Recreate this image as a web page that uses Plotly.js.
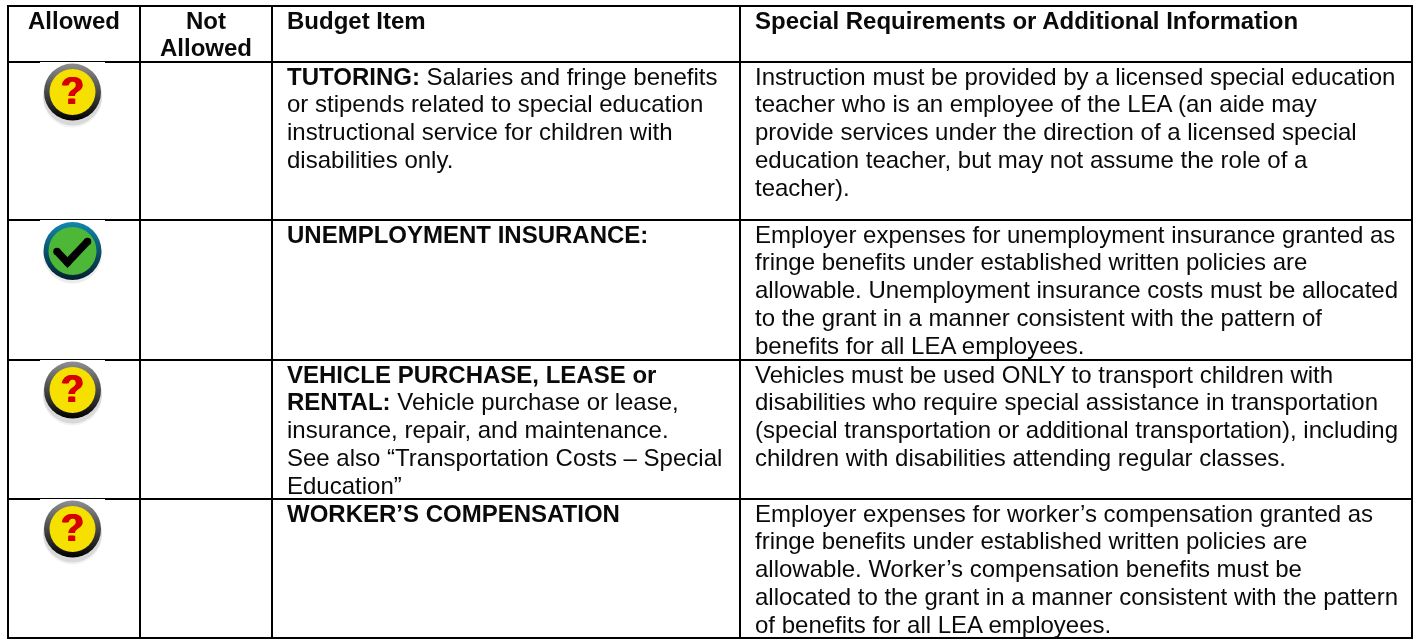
<!DOCTYPE html>
<html>
<head>
<meta charset="utf-8">
<script src="https://cdn.plot.ly/plotly-3.0.1.min.js"></script>
<style>html,body{margin:0;padding:0;background:#fff;overflow:hidden}#chart{width:1423px;height:639px;filter:blur(0.35px)}</style>
</head>
<body>
<div id="chart"></div>
<script>
// ---- content ----
const headerLabels = ["Allowed", "Not<br>Allowed", "Budget Item", "Special Requirements or Additional Information"];
const statusCodes = ["maybe", "yes", "maybe", "maybe"];
const budgetItems = [
  "<b>TUTORING:</b> Salaries and fringe benefits<br>or stipends related to special education<br>instructional service for children with<br>disabilities only.",
  "<b>UNEMPLOYMENT INSURANCE:</b>",
  "<b>VEHICLE PURCHASE, LEASE or</b><br><b>RENTAL:</b> Vehicle purchase or lease,<br>insurance, repair, and maintenance.<br>See also “Transportation Costs – Special<br>Education”",
  "<b>WORKER’S COMPENSATION</b>"
];
const requirements = [
  "Instruction must be provided by a licensed special education<br>teacher who is an employee of the LEA (an aide may<br>provide services under the direction of a licensed special<br>education teacher, but may not assume the role of a<br>teacher).",
  "Employer expenses for unemployment insurance granted as<br>fringe benefits under established written policies are<br>allowable. Unemployment insurance costs must be allocated<br>to the grant in a manner consistent with the pattern of<br>benefits for all LEA employees.",
  "Vehicles must be used ONLY to transport children with<br>disabilities who require special assistance in transportation<br>(special transportation or additional transportation), including<br>children with disabilities attending regular classes.",
  "Employer expenses for worker’s compensation granted as<br>fringe benefits under established written policies are<br>allowable. Worker’s compensation benefits must be<br>allocated to the grant in a manner consistent with the pattern<br>of benefits for all LEA employees."
];

// ---- table geometry (axis units = pixels) ----
const colEdges = [8, 140, 272, 740, 1412];
const rowEdges = [6, 62, 220, 360, 499, 638];
const textInsetX = 15;
const lineStep = 27.8;
const firstLineMid = 16.5;    // first line's vertical middle below the row's top edge
const iconOffsetY = 30;
const notchHalf = 32.5;
const checkPath = {dx: [-15.5, -5, 15], dy: [0.5, 11.5, -9.5]};
const FS = 24;
const font = "Liberation Sans, Arial, sans-serif";

const rowTops = rowEdges.slice(1, 5);
const iconCx = (colEdges[0] + colEdges[1]) / 2 - 1.5;
const iconY = rowTops.map((t, i) => t + iconOffsetY + (statusCodes[i] === "yes" ? 1 : 0));
const pick = (code) => statusCodes.map((s, i) => s === code ? i : -1).filter(i => i >= 0);
const maybeIdx = pick("maybe"), yesIdx = pick("yes");

function disc(idx, dy, marker) {
  return {
    type: "scatter", mode: "markers", hoverinfo: "skip",
    x: idx.map(() => iconCx), y: idx.map(i => iconY[i] + dy),
    marker: Object.assign({symbol: "circle", line: {width: 0}}, marker)
  };
}

// every line of text is one point, so that the line pitch is the table's own
function textLines(cellTexts, xs, tops, anchors) {
  const x = [], y = [], text = [], pos = [];
  cellTexts.forEach((cell, i) => {
    cell.split("<br>").forEach((line, k) => {
      x.push(xs[i]); y.push(tops[i] + firstLineMid + k * lineStep); text.push(line); pos.push(anchors[i]);
    });
  });
  return {
    type: "scatter", mode: "text", hoverinfo: "skip", cliponaxis: false,
    x, y, text, textposition: pos,
    textfont: {size: FS, color: "#0a0a0a", family: font}
  };
}
const bodyAnchors = rowTops.map(() => "middle right");

const traces = [
  // question icons
  disc(maybeIdx, 6, {size: 59, color: "rgba(0,0,0,0.05)"}),
  disc(maybeIdx, 4, {size: 59, color: "rgba(0,0,0,0.10)"}),
  disc(maybeIdx, 0, {size: 57, color: "#8f8f8f", gradient: {type: "vertical", color: "#000000"}}),
  disc(maybeIdx, 0, {size: 46, color: "#f5e000"}),
  {
    type: "scatter", mode: "text", hoverinfo: "skip", cliponaxis: false,
    x: maybeIdx.map(() => iconCx), y: maybeIdx.map(i => iconY[i] + 2.5),
    text: maybeIdx.map(() => "<b>?</b>"), textposition: "middle center",
    textfont: {size: 38, color: "#d60000", family: font, shadow: "0.8px 0 0 #d60000, -0.8px 0 0 #d60000"}
  },
  // check icon
  disc(yesIdx, 3, {size: 59, color: "rgba(0,0,0,0.07)"}),
  disc(yesIdx, 0, {size: 58, color: "#1387ad", gradient: {type: "vertical", color: "#02202f"}}),
  disc(yesIdx, 0, {size: 48, color: "#4db838"}),
  {
    type: "scatter", mode: "lines+markers", hoverinfo: "skip",
    x: checkPath.dx.map(d => iconCx + d),
    y: checkPath.dy.map(d => iconY[yesIdx[0]] + d),
    line: {color: "#000", width: 7.5}, marker: {size: 7.5, color: "#000", line: {width: 0}}
  },
  // header text
  textLines(headerLabels.map(s => s.split("<br>").map(l => "<b>" + l + "</b>").join("<br>")),
    [(colEdges[0] + colEdges[1]) / 2, (colEdges[1] + colEdges[2]) / 2, colEdges[2] + textInsetX, colEdges[3] + textInsetX],
    headerLabels.map(() => rowEdges[0]),
    ["middle center", "middle center", "middle right", "middle right"]),
  // body text
  textLines(budgetItems, rowTops.map(() => colEdges[2] + textInsetX), rowTops, bodyAnchors),
  textLines(requirements, rowTops.map(() => colEdges[3] + textInsetX), rowTops, bodyAnchors)
];

const ink = "#000";
const shapes = [];
colEdges.forEach(x => shapes.push({type: "line", xref: "x", yref: "y", x0: x, x1: x, y0: rowEdges[0] - 1, y1: rowEdges[5] + 1, line: {color: ink, width: 2}, layer: "below"}));
rowEdges.forEach(y => shapes.push({type: "line", xref: "x", yref: "y", x0: colEdges[0], x1: colEdges[4], y0: y, y1: y, line: {color: ink, width: 2}, layer: "below"}));
// the icons' white boxes clip the lower half of the rule above them
rowTops.forEach(y => shapes.push({type: "line", xref: "x", yref: "y", x0: iconCx - notchHalf, x1: iconCx + notchHalf, y0: y + 0.5, y1: y + 0.5, line: {color: "#fff", width: 1}, layer: "below"}));

const layout = {
  width: 1423, height: 639,
  margin: {l: 0, r: 0, t: 0, b: 0, pad: 0},
  paper_bgcolor: "#fff", plot_bgcolor: "#fff",
  showlegend: false,
  xaxis: {range: [0, 1423], visible: false, fixedrange: true},
  yaxis: {range: [639, 0], visible: false, fixedrange: true},
  shapes
};
Plotly.newPlot("chart", traces, layout, {displayModeBar: false, staticPlot: true});
</script>
</body>
</html>
